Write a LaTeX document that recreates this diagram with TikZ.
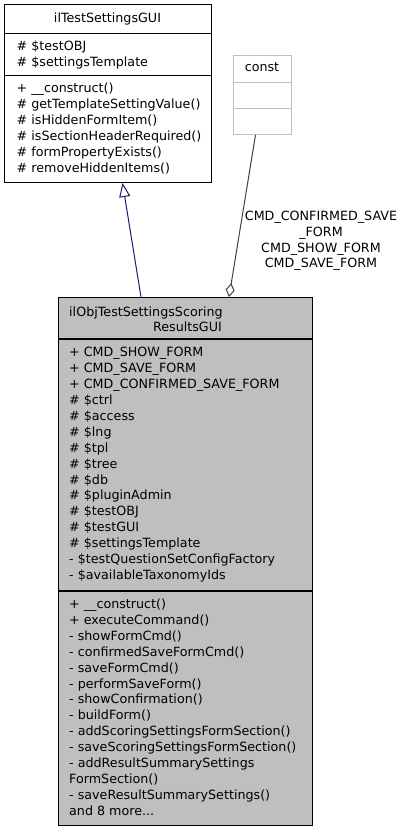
\documentclass[tikz,border=0pt]{standalone}
\usepackage{fontspec}
\setmainfont{DejaVu Sans}
\usetikzlibrary{arrows.meta,calc}
\definecolor{boxgray}{HTML}{BFBFBF}
\definecolor{inhblue}{HTML}{191970}
\definecolor{edgegray}{HTML}{404040}
\begin{document}
\begin{tikzpicture}[x=1pt,y=-1pt,
  txt/.style={font=\fontsize{12.7}{15.9}\selectfont, inner sep=0pt, text=black},
  comp/.style={draw=black, line width=1pt, anchor=north west, inner sep=0pt},
  ccomp/.style={draw=boxgray, line width=1pt, anchor=north west, inner sep=0pt, fill=white},
  dcomp/.style={draw=black, line width=1pt, anchor=north west, inner sep=0pt, fill=boxgray},
  inh/.style={draw=inhblue, line width=1pt, -{Triangle[open, length=14pt, width=11pt, fill=white]}},
  agg/.style={draw=edgegray, line width=1pt, -{Diamond[open, length=14pt, width=9pt, fill=white]}}]
\useasboundingbox (0,0) rectangle (405,832);
% base class
\node[comp, minimum width=207pt, minimum height=29pt] (bTitle) at (4,4) {};
\node[comp, minimum width=207pt, minimum height=42pt] (bAttr) at (4,33) {};
\node[comp, minimum width=207pt, minimum height=107pt] (bOps) at (4,75) {};
\node[txt, anchor=base] (bName) at (107.5,22.8) {ilTestSettingsGUI};
\foreach \t [count=\i] in {\# \$testOBJ, \# \$settingsTemplate}
  \node[txt, anchor=base west] (ba\i) at (16.5,{50.5+(\i-1)*15.9}) {\t};
\foreach \t [count=\i] in {+ \_\_construct(), \# getTemplateSettingValue(), \# isHiddenFormItem(), \# isSectionHeaderRequired(), \# formPropertyExists(), \# removeHiddenItems()}
  \node[txt, anchor=base west] (bo\i) at (16.5,{92.5+(\i-1)*15.9}) {\t};
% const
\node[ccomp, minimum width=58pt, minimum height=27pt] (cTitle) at (233,55) {};
\node[ccomp, minimum width=58pt, minimum height=26pt] (cAttr) at (233,82) {};
\node[ccomp, minimum width=58pt, minimum height=26pt] (cOps) at (233,108) {};
\node[txt, anchor=base] (cName) at (262,71.5) {const};
% derived class
\node[dcomp, minimum width=254pt, minimum height=42pt] (dTitle) at (58,297) {};
\node[dcomp, minimum width=254pt, minimum height=252pt] (dAttr) at (58,339) {};
\node[dcomp, minimum width=254pt, minimum height=234pt] (dOps) at (58,591) {};
\draw[line width=1.8pt] (dAttr.north west) -- (dAttr.north east);
\draw[line width=1.8pt] (dOps.north west) -- (dOps.north east);
\node[txt, anchor=base west] (dName1) at (69,316.2) {ilObjTestSettingsScoring};
\node[txt, anchor=base east] (dName2) at (222,331.2) {ResultsGUI};
\foreach \t [count=\i] in {+ CMD\_SHOW\_FORM, + CMD\_SAVE\_FORM, + CMD\_CONFIRMED\_SAVE\_FORM, \# \$ctrl, \# \$access, \# \$lng, \# \$tpl, \# \$tree, \# \$db, \# \$pluginAdmin, \# \$testOBJ, \# \$testGUI, \# \$settingsTemplate, - \$testQuestionSetConfigFactory, - \$availableTaxonomyIds}
  \node[txt, anchor=base west] (da\i) at (69,{356.8+(\i-1)*15.9}) {\t};
\foreach \t [count=\i] in {+ \_\_construct(), + executeCommand(), - showFormCmd(), - confirmedSaveFormCmd(), - saveFormCmd(), - performSaveForm(), - showConfirmation(), - buildForm(), - addScoringSettingsFormSection(), - saveScoringSettingsFormSection(), - addResultSummarySettings, FormSection(), - saveResultSummarySettings()}
  \node[txt, anchor=base west] (do\i) at (69,{608.5+(\i-1)*15.9}) {\t};
\node[txt, anchor=base west] (do14) at (69,{608.5+13*15.9}) {and 8 more...};
% connectors
\draw[inh] ($(dTitle.north west)+(83,0)$) -- ($(bOps.south west)+(118.5,0)$);
\draw[agg] ($(cOps.south west)+(22.5,0)$) -- ($(dTitle.north west)+(171,0)$);
\foreach \t [count=\i] in {CMD\_CONFIRMED\_SAVE, \_FORM, CMD\_SHOW\_FORM, CMD\_SAVE\_FORM}
  \node[txt, anchor=base] (lbl\i) at (321,{220.2+(\i-1)*15.9}) {\t};
\end{tikzpicture}
\end{document}
